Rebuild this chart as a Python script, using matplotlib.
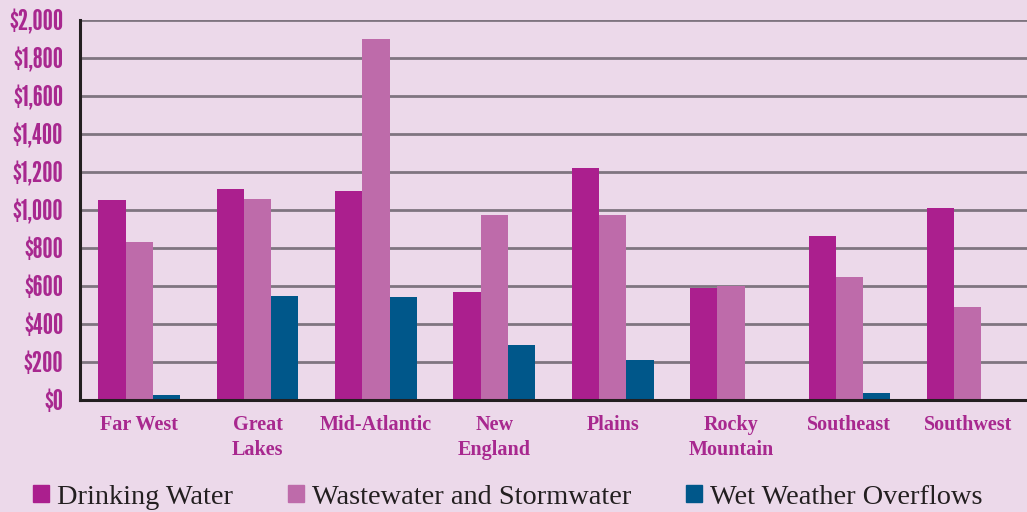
import numpy as np
import matplotlib
matplotlib.use('Agg')
import matplotlib.pyplot as plt
from matplotlib.patches import Patch
from matplotlib.ticker import FuncFormatter

regions = ['Far West', 'Great\nLakes', 'Mid-Atlantic', 'New\nEngland', 'Plains',
           'Rocky\nMountain', 'Southeast', 'Southwest']
drinking = [1053, 1111, 1100, 568, 1221, 589, 863, 1010]
wastewater = [832, 1058, 1900, 974, 974, 600, 647, 489]
wet_weather = [26, 547, 542, 289, 210, 0, 37, 0]

c_drink = '#AB1F8E'
c_waste = '#BE6BAA'
c_wet = '#00578A'
bg = '#ECD9EA'
label_col = '#A8288F'

fig = plt.figure(figsize=(10.27, 5.12), dpi=100, facecolor=bg)
ax = fig.add_axes([80/1027, 112/512, 947/1027, 380/512])
ax.set_facecolor(bg)

ind = np.arange(len(regions))
width = 0.23
ax.bar(ind - width, drinking, width, color=c_drink, zorder=3)
ax.bar(ind, wastewater, width, color=c_waste, zorder=3)
ax.bar(ind + width, wet_weather, width, color=c_wet, zorder=3)

ax.set_xlim(-0.5, len(regions) - 0.5)
ax.set_ylim(0, 2000)
ax.set_yticks(np.arange(0, 2001, 200))
ax.yaxis.set_major_formatter(FuncFormatter(lambda v, p: '${:,.0f}'.format(v)))
ax.yaxis.grid(True, color='#7F7580', linewidth=2, zorder=0)

for s in ['top', 'right']:
    ax.spines[s].set_visible(False)
for s in ['left', 'bottom']:
    ax.spines[s].set_color('#231F20')
    ax.spines[s].set_linewidth(2.2)
    ax.spines[s].set_zorder(4)

ax.set_xticks(ind)
ax.set_xticklabels(regions, fontfamily='Liberation Serif', fontweight='bold',
                   fontsize=14.5, color=label_col, linespacing=1.3)
ax.tick_params(axis='x', length=0, pad=11)
ax.tick_params(axis='y', length=0, pad=12, labelsize=20.5, labelcolor=label_col)
for t in ax.get_yticklabels():
    t.set_fontfamily(['League Gothic', 'Oswald', 'Liberation Sans Narrow', 'DejaVu Sans'])

handles = [Patch(color=c_drink, label='Drinking Water'),
           Patch(color=c_waste, label='Wastewater and Stormwater'),
           Patch(color=c_wet, label='Wet Weather Overflows')]
fig.legend(handles=handles, loc='center left', bbox_to_anchor=(33/1027, 15/512),
           ncol=3, frameon=False, prop={'family': 'Liberation Serif', 'size': 20.4},
           handlelength=0.56, handleheight=0.56, handletextpad=0.28,
           columnspacing=1.95, borderaxespad=0, borderpad=0, labelcolor='#231F20')

fig.savefig('out.png', dpi=100, facecolor=bg)
